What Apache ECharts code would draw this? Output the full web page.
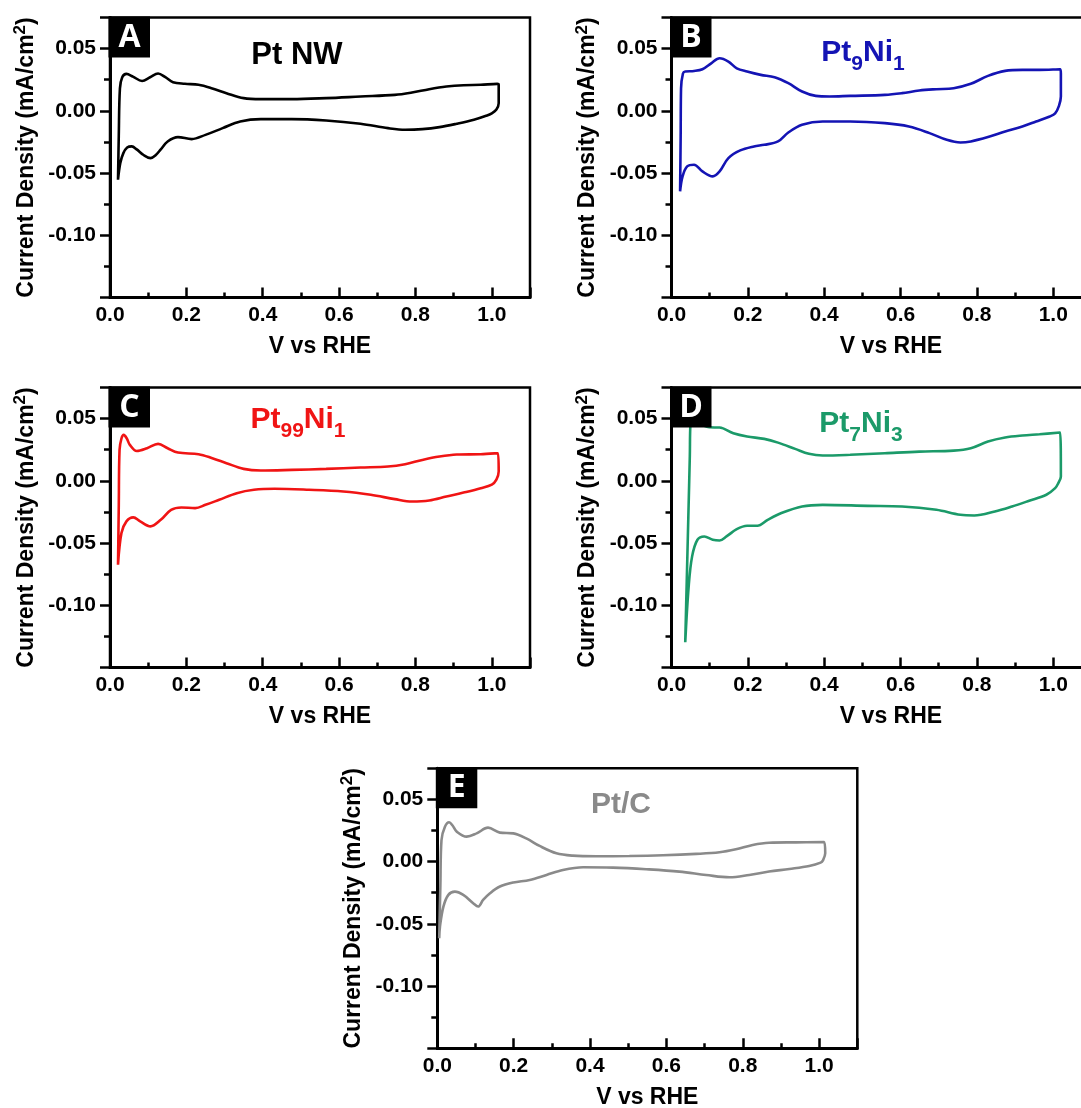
<!DOCTYPE html>
<html><head><meta charset="utf-8">
<script src="https://cdn.jsdelivr.net/npm/echarts@6/dist/echarts.min.js"></script>
<style>html,body{margin:0;padding:0;background:#fff}#c{width:1081px;height:1108px}</style>
</head><body><div id="c"></div>
<script>
// ---------- data ----------
const xTickLabels = ['0.0', '0.2', '0.4', '0.6', '0.8', '1.0'];
const yTickLabels = ['-0.10', '-0.05', '0.00', '0.05'];
const panelLetters = ['A', 'B', 'C', 'D', 'E'];
const panelNames = ['Pt NW', 'Pt{s|9}Ni{s|1}', 'Pt{s|99}Ni{s|1}', 'Pt{s|7}Ni{s|3}', 'Pt/C'];
const panelColors = ['#000000', '#1414b4', '#f01414', '#1b9a69', '#8a8a8a'];
const xAxisTitle = 'V vs RHE';
const yAxisTitle = 'Current Density (mA/cm{sup|2})';

// Pt NW (A)
const ptNW_V = [0.021,0.023,0.026,0.032,0.043,0.060,0.084,0.105,0.126,0.145,0.165,0.196,0.232,0.268,0.305,0.350,0.395,0.476,0.566,0.656,0.746,0.791,0.836,0.881,0.926,0.971,1.014,1.018,1.018,1.012,1.000,0.985,0.953,0.908,0.863,0.818,0.773,0.728,0.656,0.566,0.476,0.395,0.341,0.295,0.250,0.214,0.178,0.151,0.133,0.120,0.106,0.088,0.070,0.057,0.045,0.035,0.027,0.021];
const ptNW_J = [-0.0553,-0.020,0.018,0.027,0.0297,0.0275,0.024,0.027,0.030,0.027,0.023,0.0217,0.0209,0.018,0.0142,0.0102,0.0094,0.0094,0.0102,0.0115,0.0128,0.0147,0.0174,0.0195,0.0206,0.0209,0.0217,0.021,0.006,0.001,-0.002,-0.004,-0.0072,-0.0104,-0.0131,-0.0147,-0.0152,-0.0139,-0.0104,-0.0078,-0.0067,-0.0067,-0.0086,-0.0139,-0.0193,-0.0227,-0.0211,-0.0246,-0.031,-0.0355,-0.038,-0.0355,-0.031,-0.0286,-0.0295,-0.034,-0.042,-0.0553];

// Pt9Ni1 (B)
const pt9Ni1_V = [0.0225,0.024,0.025,0.030,0.036,0.059,0.081,0.104,0.126,0.149,0.171,0.198,0.234,0.270,0.306,0.342,0.378,0.414,0.468,0.559,0.604,0.649,0.694,0.739,0.784,0.829,0.874,0.919,0.964,1.018,1.020,1.020,1.015,1.005,0.991,0.955,0.919,0.874,0.829,0.784,0.757,0.721,0.676,0.622,0.559,0.468,0.396,0.342,0.306,0.279,0.243,0.216,0.180,0.149,0.126,0.108,0.081,0.059,0.041,0.029,0.0225];
const pt9Ni1_J = [-0.0647,-0.020,0.018,0.030,0.0316,0.032,0.0334,0.0382,0.0422,0.0396,0.0342,0.0316,0.0289,0.027,0.0222,0.0155,0.012,0.0115,0.012,0.0128,0.0142,0.0163,0.0174,0.0182,0.0217,0.0281,0.0321,0.0329,0.0329,0.0334,0.030,0.0115,0.004,-0.002,-0.0045,-0.0086,-0.0126,-0.0166,-0.0211,-0.0246,-0.0254,-0.0233,-0.0179,-0.0126,-0.0099,-0.0086,-0.0086,-0.0112,-0.0174,-0.0246,-0.0273,-0.0286,-0.0318,-0.038,-0.0487,-0.0527,-0.0487,-0.0433,-0.0447,-0.0527,-0.0647];

// Pt99Ni1 (C)
const pt99Ni1_V = [0.021,0.023,0.025,0.030,0.036,0.044,0.052,0.070,0.097,0.126,0.151,0.178,0.232,0.268,0.305,0.350,0.395,0.476,0.566,0.656,0.728,0.773,0.818,0.863,0.908,0.971,1.016,1.018,1.012,1.000,0.971,0.926,0.881,0.836,0.791,0.746,0.683,0.611,0.521,0.431,0.377,0.332,0.286,0.250,0.223,0.187,0.160,0.133,0.106,0.079,0.061,0.043,0.030,0.021];
const pt99Ni1_J = [-0.0674,-0.020,0.0249,0.034,0.0369,0.034,0.0289,0.024,0.0262,0.0297,0.0262,0.0227,0.0214,0.0182,0.0142,0.0096,0.0083,0.0088,0.0096,0.0107,0.0115,0.0134,0.0168,0.0195,0.0211,0.0214,0.0222,0.0075,0.001,-0.003,-0.0059,-0.0094,-0.0126,-0.0158,-0.0166,-0.0147,-0.0112,-0.0086,-0.0072,-0.0064,-0.0072,-0.0099,-0.0152,-0.0193,-0.0219,-0.0214,-0.0233,-0.0313,-0.0366,-0.0326,-0.0294,-0.0326,-0.042,-0.0674];

// Pt7Ni3 (D)
const pt7Ni3_V = [0.036,0.040,0.044,0.048,0.0495,0.060,0.080,0.099,0.126,0.162,0.198,0.243,0.279,0.324,0.360,0.396,0.468,0.559,0.649,0.739,0.784,0.829,0.874,0.919,0.964,1.018,1.020,1.013,1.005,0.982,0.937,0.892,0.847,0.793,0.757,0.694,0.604,0.514,0.396,0.342,0.288,0.252,0.225,0.198,0.171,0.144,0.126,0.108,0.086,0.068,0.054,0.045,0.036];
const pt7Ni3_J = [-0.1297,-0.080,-0.030,0.020,0.045,0.048,0.045,0.043,0.0428,0.0382,0.0356,0.0337,0.0307,0.0257,0.0217,0.0203,0.0209,0.0222,0.0235,0.0243,0.0262,0.0316,0.0348,0.0364,0.0374,0.0388,0.0035,-0.002,-0.0059,-0.0112,-0.016,-0.0206,-0.0246,-0.0278,-0.0273,-0.0233,-0.0206,-0.0201,-0.0193,-0.0206,-0.0259,-0.0313,-0.0361,-0.0361,-0.0388,-0.0447,-0.0479,-0.0473,-0.0447,-0.0473,-0.0607,-0.0848,-0.1297];

// Pt/C (E)
const ptC_V = [0.005,0.008,0.011,0.020,0.031,0.040,0.051,0.077,0.103,0.133,0.164,0.199,0.233,0.268,0.312,0.355,0.416,0.503,0.591,0.678,0.739,0.782,0.826,0.869,0.939,1.013,1.016,1.010,1.004,0.974,0.922,0.869,0.817,0.765,0.704,0.634,0.547,0.460,0.382,0.329,0.286,0.242,0.199,0.164,0.138,0.120,0.107,0.094,0.068,0.046,0.029,0.016,0.007,0.005];
const ptC_J = [-0.0615,-0.020,0.0174,0.028,0.0316,0.029,0.0241,0.0201,0.0227,0.0273,0.0233,0.0227,0.0187,0.0126,0.0067,0.0048,0.0043,0.0045,0.0051,0.0062,0.0075,0.0099,0.0134,0.0152,0.0155,0.0158,0.0067,0.001,-0.0008,-0.0035,-0.0059,-0.008,-0.0107,-0.0126,-0.0107,-0.008,-0.0061,-0.0048,-0.0045,-0.0067,-0.0107,-0.0147,-0.0168,-0.02,-0.0254,-0.0308,-0.0361,-0.0334,-0.0267,-0.0241,-0.0267,-0.0361,-0.0521,-0.0615];

const seriesV = [ptNW_V, pt9Ni1_V, pt99Ni1_V, pt7Ni3_V, ptC_V];
const seriesJ = [ptNW_J, pt9Ni1_J, pt99Ni1_J, pt7Ni3_J, ptC_J];

// ---------- layout ----------
const FONT = '"Liberation Sans", Arial, sans-serif';
const panels = [
  {left: 110,   top: 17.5,  width: 420, xmax: 1.1,  tx: 297, ty: 55},
  {left: 671.5, top: 17.5,  width: 439, xmax: 1.15, tx: 863, ty: 53},
  {left: 110,   top: 387.5, width: 420, xmax: 1.1,  tx: 298, ty: 420},
  {left: 671.5, top: 387.5, width: 439, xmax: 1.15, tx: 861, ty: 424},
  {left: 437.3, top: 768.3, width: 420, xmax: 1.1,  tx: 621, ty: 805}
];
const PH = 280;

const grids = [], xAxes = [], yAxes = [], series = [], graphics = [];
panels.forEach((p, i) => {
  grids.push({left: p.left, top: p.top, width: p.width, height: PH, show: true,
    borderColor: '#000', borderWidth: 2.5, backgroundColor: 'transparent', containLabel: false, outerBoundsMode: 'none'});
  // major x axis
  xAxes.push({gridIndex: i, type: 'value', min: 0, max: p.xmax, interval: 0.2, position: 'bottom',
    axisLine: {show: true, onZero: false, lineStyle: {color: '#000', width: 3}},
    axisTick: {show: true, inside: true, length: 10, lineStyle: {color: '#000', width: 2.5}},
    axisLabel: {show: true, margin: 7, fontSize: 21, fontWeight: 'bold', color: '#000', fontFamily: FONT,
      formatter: v => { const s = (Math.abs(v) < 1e-9 ? 0 : v).toFixed(1); return xTickLabels.includes(s) ? s : ''; }},
    splitLine: {show: false},
    name: xAxisTitle, nameLocation: 'middle', nameGap: 38, nameMoveOverlap: false,
    nameTextStyle: {fontSize: 23, fontWeight: 'bold', color: '#000', fontFamily: FONT}});
  // minor x axis
  xAxes.push({gridIndex: i, type: 'value', min: 0, max: p.xmax, interval: 0.1, position: 'bottom',
    axisLine: {show: false, onZero: false},
    axisTick: {show: true, inside: true, length: 5, lineStyle: {color: '#000', width: 2.5}},
    axisLabel: {show: false}, splitLine: {show: false}});
  // major y axis
  yAxes.push({gridIndex: i, type: 'value', min: -0.15, max: 0.075, interval: 0.05, position: 'left',
    axisLine: {show: true, onZero: false, lineStyle: {color: '#000', width: 3}},
    axisTick: {show: true, inside: false, length: 10, lineStyle: {color: '#000', width: 2.5}},
    axisLabel: {show: true, margin: 14, fontSize: 21, fontWeight: 'bold', color: '#000', fontFamily: FONT,
      formatter: v => { const s = (Math.abs(v) < 1e-9 ? 0 : v).toFixed(2); return yTickLabels.includes(s) ? s : ''; }},
    splitLine: {show: false},
    name: yAxisTitle, nameLocation: 'middle', nameGap: 69, nameMoveOverlap: false,
    nameTextStyle: {fontSize: 23, fontWeight: 'bold', color: '#000', fontFamily: FONT,
      rich: {sup: {fontSize: 17, fontWeight: 'bold', color: '#000', fontFamily: FONT, padding: [0, 0, 12, 0]}}}});
  // minor y axis
  yAxes.push({gridIndex: i, type: 'value', min: -0.15, max: 0.075, interval: 0.025, position: 'left',
    axisLine: {show: false, onZero: false},
    axisTick: {show: true, inside: false, length: 6, lineStyle: {color: '#000', width: 2.5}},
    axisLabel: {show: false}, splitLine: {show: false}});

  series.push({type: 'line', name: panelNames[i], xAxisIndex: 2 * i, yAxisIndex: 2 * i,
    data: seriesV[i].map((v, k) => [v, seriesJ[i][k]]),
    showSymbol: false, symbol: 'none', smooth: 0.35, animation: false,
    lineStyle: {color: panelColors[i], width: 2.6}, itemStyle: {color: panelColors[i]}, z: 3});

  // panel letter box
  graphics.push({type: 'rect', z: 100, shape: {x: p.left - 1.5, y: p.top - 1, width: 41.5, height: 41},
    style: {fill: '#000'}});
  graphics.push({type: 'text', z: 101, x: p.left + 19.5, y: p.top + 20,
    style: {text: panelLetters[i], fill: '#fff', font: 'bold 32px "Open Sans", "Liberation Sans", sans-serif',
      align: 'center', verticalAlign: 'middle'}});
  // panel title
  const mainSize = i === 0 ? 31 : 30;
  graphics.push({type: 'text', z: 101, x: p.tx, y: p.ty,
    style: {text: panelNames[i], fill: panelColors[i], font: 'bold ' + mainSize + 'px ' + FONT,
      align: 'center', verticalAlign: 'middle', lineHeight: 32,
      rich: {s: {fill: panelColors[i], font: 'bold 21px ' + FONT, lineHeight: 21, padding: [22, 0, 0, 0]}}}});
});

const chart = echarts.init(document.getElementById('c'), null, {renderer: 'canvas'});
chart.setOption({
  animation: false,
  backgroundColor: '#fff',
  textStyle: {fontFamily: FONT},
  grid: grids, xAxis: xAxes, yAxis: yAxes, series: series, graphic: graphics
});
</script></body></html>
